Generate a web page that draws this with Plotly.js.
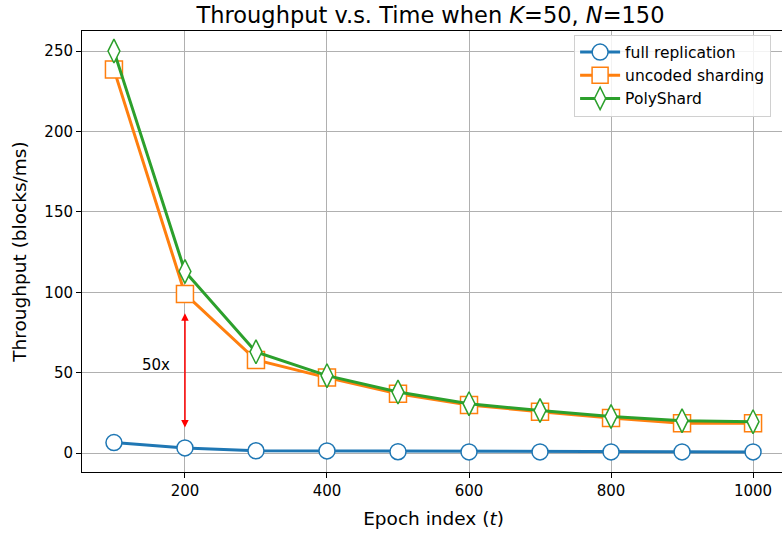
<!DOCTYPE html>
<html>
<head>
<meta charset="utf-8">
<script src="https://cdn.plot.ly/plotly-3.0.1.min.js"></script>
<style>
html,body{margin:0;padding:0;overflow:hidden;background:#fff;}
#chart{width:790px;height:536px;}
</style>
</head>
<body>
<div id="chart"></div>
<script>
const epochs = [100, 200, 300, 400, 500, 600, 700, 800, 900, 1000];
const fullReplication = [6.6, 3.3, 1.5, 1.4, 0.9, 0.8, 0.8, 0.8, 0.8, 0.8];
const uncodedSharding = [238.5, 99, 58, 47, 37, 30, 25.8, 21.8, 18.6, 18.6];
const polyShard = [250, 113, 63, 48.2, 38, 30.8, 26.5, 22.8, 20.2, 19.6];
const seriesNames = ['full replication', 'uncoded sharding', 'PolyShard'];
const xTicks = [200, 400, 600, 800, 1000];
const yTicks = [0, 50, 100, 150, 200, 250];
const arrowX = 200, arrowTop = 88, arrowBottom = 16;
const ratioLabel = '50x', ratioX = 159, ratioY = 54.6;

const colors = ['#1f77b4', '#ff7f0e', '#2ca02c'];
const symbols = ['circle', 'square', 'diamond-tall'];
const sizes = [16, 17, 17];
const ys = [fullReplication, uncodedSharding, polyShard];

const traces = ys.map((y, i) => ({
  x: epochs, y: y, name: seriesNames[i], type: 'scatter', mode: 'lines+markers',
  line: {color: colors[i], width: 3},
  marker: {symbol: symbols[i], size: sizes[i], color: '#ffffff', line: {color: colors[i], width: 1.5}}
}));

const font = 'DejaVu Sans, sans-serif';
const axisCommon = {
  showline: true, linecolor: '#000', linewidth: 1, mirror: true,
  showgrid: true, gridcolor: '#b0b0b0', gridwidth: 1,
  ticks: 'outside', ticklen: 5, tickcolor: '#000', tickwidth: 1,
  zeroline: false, tickfont: {family: font, size: 15, color: '#000'}
};

const layout = {
  width: 790, height: 536,
  margin: {l: 82, r: 5, t: 31, b: 64},
  paper_bgcolor: '#fff', plot_bgcolor: '#fff',
  font: {family: font, color: '#000'},
  title: {text: 'Throughput v.s. Time when <i>K</i>=50, <i>N</i>=150', font: {family: font, size: 22.5, color: '#000'},
          x: 0.545, xanchor: 'center', y: 0.972, yanchor: 'middle'},
  xaxis: Object.assign({}, axisCommon, {range: [55, 1045], tickvals: xTicks,
          title: {text: 'Epoch index (<i>t</i>)', font: {family: font, size: 18.5, color: '#000'}, standoff: 13}}),
  yaxis: Object.assign({}, axisCommon, {range: [-11.7, 262.5], tickvals: yTicks,
          title: {text: 'Throughput (blocks/ms)', font: {family: font, size: 18.5, color: '#000'}, standoff: 12}}),
  legend: {x: 0.70, y: 0.992, xanchor: 'left', yanchor: 'top', bgcolor: 'rgba(255,255,255,0.85)',
           bordercolor: '#d0d0d0', borderwidth: 1, font: {family: font, size: 15.5, color: '#000'},
           tracegroupgap: 0, itemwidth: 40},
  showlegend: true,
  annotations: [
    {x: arrowX, y: arrowBottom, ax: arrowX, ay: arrowTop, xref: 'x', yref: 'y', axref: 'x', ayref: 'y',
     text: '', showarrow: true, arrowhead: 2, startarrowhead: 2, arrowside: 'end+start',
     arrowcolor: '#ff0000', arrowwidth: 1.5, arrowsize: 1, startarrowsize: 1},
    {x: ratioX, y: ratioY, xref: 'x', yref: 'y', text: ratioLabel, showarrow: false,
     font: {family: font, size: 15, color: '#000'}}
  ]
};

Plotly.newPlot('chart', traces, layout, {displayModeBar: false, staticPlot: true});
</script>
</body>
</html>
